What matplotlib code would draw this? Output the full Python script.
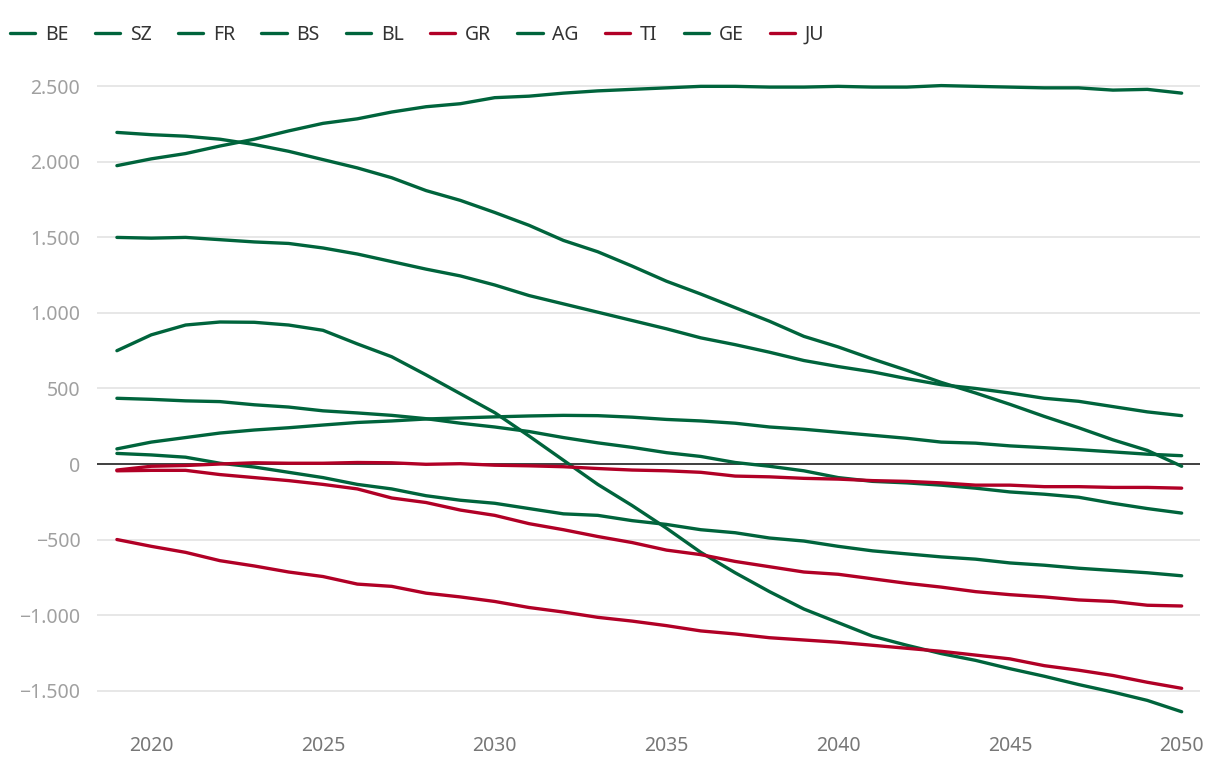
import matplotlib.pyplot as plt
from matplotlib.ticker import FuncFormatter

plt.rcParams['font.family'] = ['Noto Sans', 'DejaVu Sans']

years = list(range(2019, 2051))

BE = [750, 855, 920, 940, 938, 920, 885, 795, 710, 590, 465, 340, 185, 25, -135, -275,
      -425, -585, -720, -845, -960, -1050, -1140, -1200, -1255, -1300, -1355, -1405, -1460, -1510, -1565, -1640]
SZ = [100, 145, 175, 205, 225, 240, 258, 275, 285, 298, 305, 312, 318, 322, 320, 310,
      295, 285, 270, 245, 230, 210, 190, 170, 145, 138, 120, 108, 95, 80, 65, 55]
FR = [1500, 1495, 1500, 1485, 1470, 1460, 1430, 1390, 1340, 1290, 1245, 1185, 1115, 1060, 1005, 950,
      895, 835, 790, 740, 685, 645, 610, 565, 525, 500, 470, 435, 415, 380, 345, 320]
BS = [435, 428, 418, 413, 392, 377, 352, 338, 322, 300, 270, 245, 215, 175, 140, 110,
      75, 50, 10, -15, -45, -90, -115, -125, -140, -160, -185, -200, -220, -260, -295, -325]
BL = [70, 60, 45, 5, -20, -55, -90, -135, -165, -210, -240, -260, -295, -330, -340, -375,
      -400, -435, -455, -490, -510, -545, -575, -595, -615, -630, -655, -670, -690, -705, -720, -740]
GR = [-45, -42, -42, -70, -90, -110, -135, -165, -225, -255, -305, -340, -395, -435, -480, -520,
      -570, -600, -645, -680, -715, -730, -760, -790, -815, -845, -865, -880, -900, -910, -935, -940]
AG = [1975, 2020, 2055, 2105, 2150, 2205, 2255, 2285, 2330, 2365, 2385, 2425, 2435, 2455, 2470, 2480,
      2490, 2500, 2500, 2495, 2495, 2500, 2495, 2495, 2505, 2500, 2495, 2490, 2490, 2475, 2480, 2455]
TI = [-500, -545, -585, -640, -675, -715, -745, -795, -810, -855, -880, -910, -950, -980, -1015, -1040,
      -1070, -1105, -1125, -1150, -1165, -1180, -1200, -1220, -1240, -1265, -1290, -1335, -1365, -1400, -1445, -1485]
GE = [2195, 2180, 2170, 2150, 2115, 2070, 2015, 1960, 1895, 1810, 1745, 1665, 1580, 1480, 1405, 1310,
      1210, 1125, 1035, 945, 845, 775, 695, 620, 540, 470, 395, 315, 240, 160, 90, -15]
JU = [-40, -15, -10, 0, 8, 5, 5, 10, 8, -2, 2, -8, -12, -18, -30, -40,
      -45, -55, -80, -85, -95, -100, -110, -115, -125, -140, -140, -150, -150, -155, -155, -160]

green = '#00643c'
red = '#b10026'
series = [('BE', BE, green), ('SZ', SZ, green), ('FR', FR, green), ('BS', BS, green),
          ('BL', BL, green), ('GR', GR, red), ('AG', AG, green), ('TI', TI, red),
          ('GE', GE, green), ('JU', JU, red)]

fig = plt.figure(figsize=(12.2, 7.66), dpi=100)
ax = fig.add_axes([0.0795, 0.059, 0.904, 0.848])

for name, vals, col in series:
    ax.plot(years, vals, color=col, lw=2.4, label=name, solid_capstyle='round', zorder=3)

ax.axhline(0, color='#333333', lw=1.3, zorder=2)
ax.set_xlim(2018.42, 2050.53)
ax.set_ylim(-1700, 2600)
ax.set_yticks([-1500, -1000, -500, 0, 500, 1000, 1500, 2000, 2500])
ax.set_xticks([2020, 2025, 2030, 2035, 2040, 2045, 2050])
ax.yaxis.set_major_formatter(FuncFormatter(
    lambda v, p: ('\u2212' if v < 0 else '') + f'{abs(int(v)):,}'.replace(',', '.')))
ax.grid(axis='y', color='#e3e3e3', lw=1.2, zorder=1)
for s in ax.spines.values():
    s.set_visible(False)
ax.tick_params(axis='y', length=0, pad=12, labelsize=14, labelcolor='#a0a0a0')
ax.tick_params(axis='x', length=0, pad=11, labelsize=14, labelcolor='#777777')

fig.legend(loc='upper left', bbox_to_anchor=(-0.006, 0.99), ncol=10, frameon=False,
           fontsize=14, handlelength=1.3, handletextpad=0.5, columnspacing=1.35,
           labelcolor='#333333')

fig.savefig('out.png', dpi=100)
